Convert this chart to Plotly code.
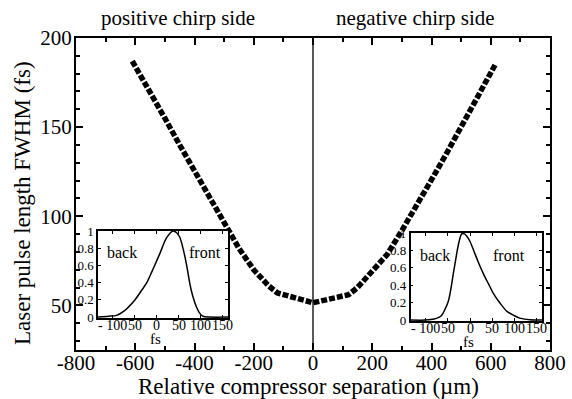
import plotly.graph_objects as go

# Main curve: relative compressor separation (um) vs pulse FWHM (fs)
sep_um = [-610, -550, -500, -450, -400, -350, -300, -250, -200, -150, -120, -80, -40, 0,
          40, 80, 120, 150, 200, 250, 300, 350, 400, 450, 500, 550, 615]
fwhm_fs = [187, 170, 155, 140, 125.5, 111, 96, 82, 70, 61, 57, 55, 53.5, 51.5,
           53, 54.5, 56, 60, 69.5, 78.5, 92, 107, 120.5, 135, 150, 166, 185]

# Inset 1 (positive chirp side) temporal profile
inset1_t = [-134, -110, -92, -75, -50, -36, -23, -12, -5, 7, 22, 37, 45, 52, 58, 64, 70, 75, 82, 90, 97, 105, 120, 162]
inset1_i = [0.0, 0.01, 0.02, 0.07, 0.2, 0.3, 0.4, 0.52, 0.6, 0.74, 0.92, 1.0, 0.98, 0.93, 0.83, 0.70, 0.54, 0.39, 0.24, 0.12, 0.05, 0.01, 0.0, 0.0]

# Inset 2 (negative chirp side) temporal profile
inset2_t = [-134, -100, -85, -76, -65, -57, -49, -43, -38, -33, -29, -24, -19, -13, -7, 0, 8, 18, 30, 42, 53, 68, 83, 100, 114, 135, 162]
inset2_i = [0.0, 0.0, 0.01, 0.02, 0.05, 0.12, 0.22, 0.37, 0.53, 0.68, 0.8, 0.92, 0.99, 0.99, 0.96, 0.9, 0.8, 0.67, 0.53, 0.41, 0.30, 0.19, 0.10, 0.05, 0.02, 0.005, 0.0]

x_ticks = [-800, -600, -400, -200, 0, 200, 400, 600, 800]
x_ticktext = ["-800", "-600", "-400", "-200", "0", "200", "400", "600", "800"]
y_ticks = [50, 100, 150, 200]
y_ticktext = ["50", "100", "150", "200"]
inset_xticks = [-100, -50, 0, 50, 100, 150]
inset_xtext = ["- 100", "50", "0", "50", "100", "150"]
inset_yticks = [0, 0.2, 0.4, 0.6, 0.8, 1.0]
inset_ytext = ["0", "0.2", "0.4", "0.6", "0.8", "1"]

FONT = "Liberation Serif, Times New Roman, serif"

fig = go.Figure()
fig.add_trace(go.Scatter(x=sep_um, y=fwhm_fs, mode="lines", xaxis="x", yaxis="y",
                         line=dict(color="black", width=5.5, dash="6px,2px"),
                         showlegend=False))
fig.add_trace(go.Scatter(x=inset1_t, y=inset1_i, mode="lines", xaxis="x2", yaxis="y2",
                         line=dict(color="black", width=1.5, shape="spline", smoothing=0.8),
                         showlegend=False))
fig.add_trace(go.Scatter(x=inset2_t, y=inset2_i, mode="lines", xaxis="x3", yaxis="y3",
                         line=dict(color="black", width=1.5, shape="spline", smoothing=0.8),
                         showlegend=False))

main_ax = dict(showline=True, linewidth=2, linecolor="black", mirror="ticks",
               ticks="inside", ticklen=7, tickwidth=1.5, tickcolor="black",
               showgrid=False, zeroline=False, automargin=False,
               tickfont=dict(family=FONT, size=21, color="black"))

inset_x = dict(showline=True, linewidth=1.5, linecolor="black", mirror="ticks",
               ticks="inside", ticklen=3, tickwidth=1, tickcolor="black",
               showgrid=False, zeroline=False, range=[-134, 162], automargin=False,
               tickvals=inset_xticks, showticklabels=False)
inset_y = dict(showline=True, linewidth=1.5, linecolor="black", mirror="ticks",
               ticks="inside", ticklen=3, tickwidth=1, tickcolor="black",
               showgrid=False, zeroline=False, range=[-0.01, 1.0], automargin=False,
               tickvals=inset_yticks, ticktext=inset_ytext,
               tickfont=dict(family=FONT, size=13, color="black"))

fig.update_layout(
    width=572, height=399,
    margin=dict(l=76, r=22, t=38, b=49, autoexpand=False),
    paper_bgcolor="white", plot_bgcolor="white",
    font=dict(family=FONT, color="black"),
    xaxis=dict(main_ax, domain=[0, 1], range=[-800, 800], tickvals=x_ticks, ticktext=x_ticktext,
               ticklabelstandoff=-7,
               minor=dict(dtick=100, tick0=0, ticks="inside", ticklen=4, tickwidth=1.5, tickcolor="black")),
    yaxis=dict(main_ax, domain=[0, 1], range=[25, 200], tickvals=y_ticks, ticktext=y_ticktext,
               ticklabelstandoff=-2,
               minor=dict(dtick=10, tick0=0, ticks="inside", ticklen=4, tickwidth=1.5, tickcolor="black")),
    xaxis2=dict(inset_x, domain=[0.0464, 0.3207], anchor="y2"),
    yaxis2=dict(inset_y, domain=[0.1026, 0.3814], anchor="x2"),
    xaxis3=dict(inset_x, domain=[0.7061, 0.9831], anchor="y3"),
    yaxis3=dict(inset_y, domain=[0.093, 0.375], anchor="x3"),
)

fig.add_shape(type="line", xref="x", yref="y domain", x0=0, x1=0, y0=0, y1=1,
              line=dict(color="black", width=1.3))

def px_x(p):
    return (p - 76) / 474

def px_y(p):
    return (350 - p) / 312

# Axis titles
fig.add_annotation(text="Laser pulse length FWHM (fs)", x=px_x(22), y=px_y(203),
                   xref="paper", yref="paper", showarrow=False, textangle=-90,
                   xanchor="center", yanchor="middle",
                   font=dict(family=FONT, size=23, color="black"))
fig.add_annotation(text="Relative compressor separation (µm)", x=px_x(308), y=px_y(386),
                   xref="paper", yref="paper", showarrow=False,
                   xanchor="center", yanchor="middle",
                   font=dict(family=FONT, size=23, color="black"))

annos = [
    ("positive chirp side", 178, 18, 21),
    ("negative chirp side", 415, 18, 21),
    ("back", 122, 252, 16),
    ("front", 205, 252, 16),
    ("back", 435, 255, 16),
    ("front", 509, 255, 16),
    ("fs", 155, 339, 15),
    ("fs", 468, 342, 15),
]
for txt, ax_, ay_, sz in annos:
    fig.add_annotation(text=txt, x=px_x(ax_), y=px_y(ay_), xref="paper", yref="paper",
                       showarrow=False, xanchor="center", yanchor="middle",
                       font=dict(family=FONT, size=sz, color="black"))

# Inset x tick labels (drawn at the inset axes' tick values)
for xr, yr in (("x2", "y2 domain"), ("x3", "y3 domain")):
    for tv, tt in zip(inset_xticks, inset_xtext):
        fig.add_annotation(text=tt, x=tv, y=0, xref=xr, yref=yr, showarrow=False,
                           xanchor="center", yanchor="top", yshift=2,
                           font=dict(family=FONT, size=14, color="black"))

fig.write_html("out.html")
